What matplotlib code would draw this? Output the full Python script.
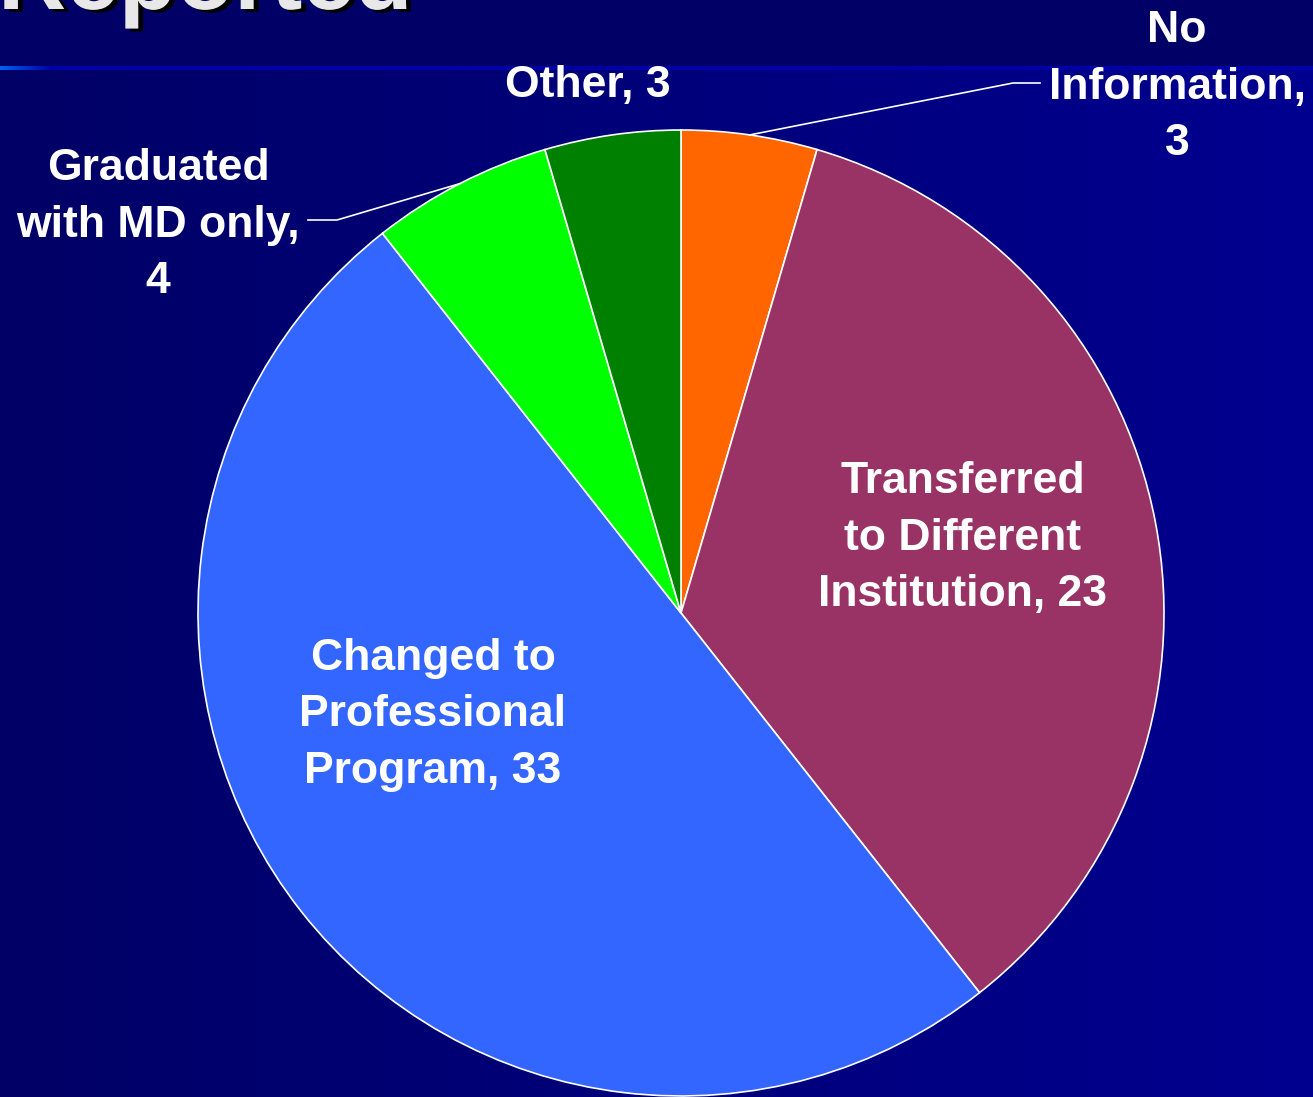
import numpy as np
import matplotlib
matplotlib.use("Agg")
import matplotlib.pyplot as plt
import matplotlib.patheffects as pe
from matplotlib.colors import LinearSegmentedColormap

# ---- data ----
categories = ["No Information", "Transferred to Different Institution",
              "Changed to Professional Program", "Graduated with MD only", "Other"]
values = [3, 23, 33, 4, 3]
label_texts = ["No\nInformation,\n3",
               "Transferred\nto Different\nInstitution, 23",
               "Changed to\nProfessional\nProgram, 33",
               "Graduated\nwith MD only,\n4",
               "Other, 3"]
colors = ["#FF6600", "#993366", "#3366FF", "#00FF00", "#008000"]
title_text = "Reported"

W, H = 1313, 1097
fig = plt.figure(figsize=(W / 100, H / 100), dpi=100)
fig.patch.set_facecolor("#000066")
ax = fig.add_axes([0, 0, 1, 1])
ax.set_facecolor("#000066")

# background gradient below the title band
grad = np.linspace(0, 1, 256).reshape(1, -1)
cmap = LinearSegmentedColormap.from_list("bg", ["#000066", "#00008F"])
ax.imshow(grad, extent=(0, W, 0, H - 68), cmap=cmap, aspect="auto", zorder=0)
# title band
ax.fill_between([0, W], H - 68, H, color="#000066", zorder=0.5, lw=0)
# separator line with bright left end
linecmap = LinearSegmentedColormap.from_list("ln", ["#0060F0", "#0000A8"])
lg = np.clip(np.linspace(0, W / 50, 512), 0, 1).reshape(1, -1)
ax.imshow(lg, extent=(0, W, H - 70, H - 66), cmap=linecmap, aspect="auto", zorder=1)

cx, cy, r = 681, H - 613, 483
wedges, _ = ax.pie(values, colors=colors, startangle=90, counterclock=False,
                   center=(cx, cy), radius=r,
                   wedgeprops=dict(edgecolor="white", linewidth=1.2))
for w in wedges:
    w.set_zorder(2)

ax.set_xlim(0, W)
ax.set_ylim(0, H)
ax.set_aspect("auto")
ax.axis("off")

fs = 32
ls = 1.48
font = dict(family=["Liberation Sans", "DejaVu Sans"], fontweight="bold",
            color="white", fontsize=fs, ha="center", va="center",
            linespacing=ls, zorder=5)

# label positions (pixels from top-left)
label_pos = [(1177, 87), (963, 538), (433, 715), (158, 225), (588, 86)]
for txt, (px, py) in zip(label_texts, label_pos):
    ax.text(px, H - py, txt, **font)

# leader lines for small slices
total = sum(values)
cum = np.cumsum([0] + values)
def edge_point(i):
    mid = 90 - 360 * (cum[i] + values[i] / 2) / total
    a = np.deg2rad(mid)
    return cx + r * np.cos(a), cy + r * np.sin(a)

ex, ey = edge_point(0)
ax.plot([ex, 1013, 1040], [ey, H - 83, H - 83], color="white", lw=1.2, zorder=4)
ex, ey = edge_point(3)
ax.plot([ex, 337, 308], [ey, H - 220, H - 220], color="white", lw=1.2, zorder=4)

# partially visible title (cut off by the top edge, as in the reference)
ax.text(413, H - 9, title_text, family=["Liberation Sans", "DejaVu Sans"],
        fontweight="bold", fontsize=68, color="#E8E8E8", ha="right", va="baseline",
        zorder=6,
        path_effects=[pe.withSimplePatchShadow(offset=(3.5, -2), shadow_rgbFace="black",
                                               alpha=1.0)])

fig.savefig("out.png", dpi=100, facecolor=fig.get_facecolor())
